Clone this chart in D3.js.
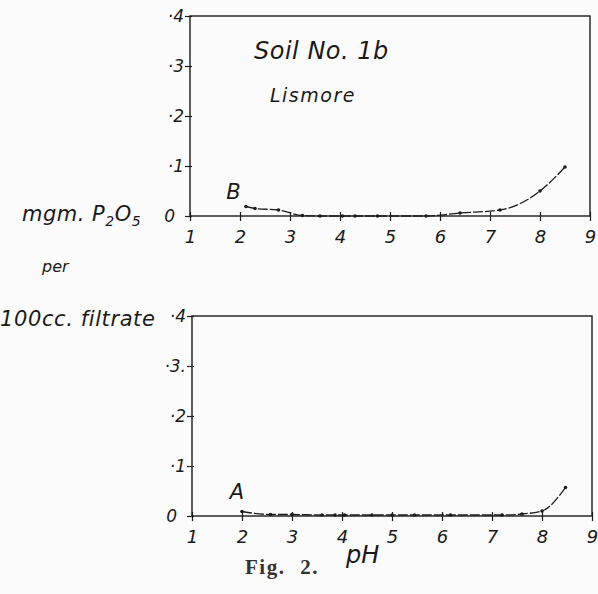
<!DOCTYPE html>
<html><head><meta charset="utf-8">
<script src="https://cdn.jsdelivr.net/npm/d3@7"></script>
<style>
html,body{margin:0;padding:0;background:#fbfbfb;}
svg{display:block;}
.hand{font-family:"DejaVu Sans",sans-serif;font-style:italic;fill:#1a1a1a;}
</style></head>
<body>
<script>
const xTicks = [1,2,3,4,5,6,7,8,9];
const xTickLabels = ["1","2","3","4","5","6","7","8","9"];
const yTicks = [0,0.1,0.2,0.3,0.4];
const yTickLabelsB = ["0","·1","·2","·3","·4"];
const yTickLabelsA = ["0","·1","·2","·3.","·4"];
const phB  = [2.12,2.3,2.77,3.25,3.6,4.05,4.3,4.75,5.72,6.4,7.2,8.0,8.5];
const valB = [0.019,0.015,0.012,0.001,0,0,0,0,0,0.006,0.012,0.05,0.098];
const phA  = [2.0,2.57,3.0,3.6,3.86,4.05,4.6,5.0,5.45,6.17,7.2,7.6,8.0,8.47];
const valA = [0.009,0.003,0.003,0.002,0.002,0.002,0.002,0.002,0.002,0.002,0.002,0.004,0.01,0.057];

const W=598,H=594;
const svg=d3.select("body").append("svg").attr("width",W).attr("height",H);
const ink="#1c1c1c";

function panel(x0,x1,yTop,yBot,ph,val,yLabels,letter,letterPos){
  const x=d3.scaleLinear().domain([1,9]).range([x0,x1]);
  const y=d3.scaleLinear().domain([0,0.4]).range([yBot,yTop]);
  const g=svg.append("g");
  g.append("rect").attr("x",x0).attr("y",yTop).attr("width",x1-x0).attr("height",yBot-yTop)
    .attr("fill","none").attr("stroke",ink).attr("stroke-width",1.4);
  const ax=g.append("g").attr("transform",`translate(0,${yBot})`)
    .call(d3.axisBottom(x).tickValues(xTicks).tickSize(5).tickFormat((d,i)=>xTickLabels[i]));
  ax.select(".domain").remove();
  ax.selectAll("line").attr("stroke",ink).attr("y1",-4).attr("stroke-width",1.2);
  ax.selectAll("text").attr("class","hand").attr("font-size",18).attr("dy","1.05em").attr("fill",ink);
  const ay=g.append("g").attr("transform",`translate(${x0},0)`)
    .call(d3.axisLeft(y).tickValues(yTicks).tickSize(5).tickFormat((d,i)=>yLabels[i]));
  ay.select(".domain").remove();
  ay.selectAll("line").attr("stroke",ink).attr("x2",-5).attr("x1",2).attr("stroke-width",1.2);
  ay.selectAll("text").attr("class","hand").attr("font-size",17).attr("fill",ink)
    .attr("x",(d)=>d===0?-15:-6);
  const pts=ph.map((p,i)=>[x(p),y(val[i])]);
  g.append("path").attr("d",d3.line().curve(d3.curveMonotoneX)(pts))
    .attr("fill","none").attr("stroke",ink).attr("stroke-width",1.3).attr("stroke-dasharray","10,2");
  g.selectAll("circle.pt").data(pts).enter().append("circle").attr("class","pt")
    .attr("cx",d=>d[0]).attr("cy",d=>d[1]).attr("r",1.8).attr("fill",ink);
  g.append("text").attr("class","hand").attr("x",x(letterPos[0])).attr("y",y(letterPos[1]))
    .attr("font-size",21).attr("text-anchor","middle").text(letter);
  return {x,y};
}
panel(190,590,16,216,phB,valB,yTickLabelsB,"B",[1.87,0.035]);
panel(192,592,316,516,phA,valA,yTickLabelsA,"A",[1.9,0.035]);

svg.append("text").attr("class","hand").attr("x",254).attr("y",59).attr("font-size",24).attr("letter-spacing",0.5).text("Soil No. 1b");
svg.append("text").attr("class","hand").attr("x",270).attr("y",102).attr("font-size",19).attr("letter-spacing",1.5).text("Lismore");

const yl=svg.append("text").attr("class","hand").attr("x",22).attr("y",221).attr("font-size",21).attr("letter-spacing",0.5);
yl.append("tspan").text("mgm. P");
yl.append("tspan").attr("font-size",14).attr("dy",5).text("2");
yl.append("tspan").attr("dy",-5).text("O");
yl.append("tspan").attr("font-size",14).attr("dy",5).text("5");
svg.append("text").attr("class","hand").attr("x",42).attr("y",272).attr("font-size",16).text("per");
svg.append("text").attr("class","hand").attr("x",0).attr("y",326).attr("font-size",21).attr("letter-spacing",0.6).text("100cc. filtrate");

svg.append("text").attr("x",245).attr("y",574).attr("font-family","Liberation Serif,serif")
  .attr("font-weight","bold").attr("font-size",21).attr("letter-spacing",1.5).attr("word-spacing",8).attr("fill","#333").text("Fig. 2.");
svg.append("text").attr("class","hand").attr("x",346).attr("y",563).attr("font-size",24).text("pH");
</script>
</body></html>
